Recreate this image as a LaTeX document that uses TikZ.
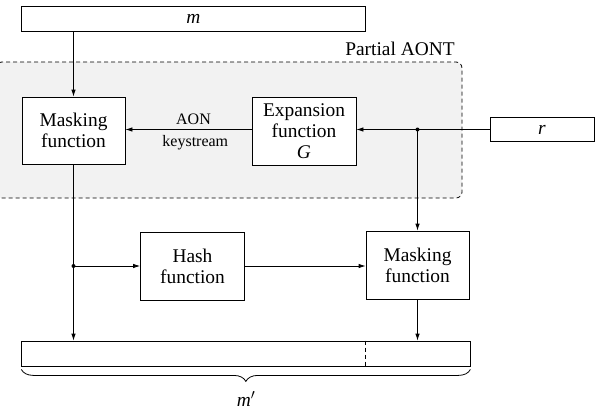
\documentclass[tikz,border=0pt]{standalone}
\usepackage{fontspec}
\setmainfont{Liberation Serif}
\usetikzlibrary{arrows.meta,decorations.pathreplacing}
\begin{document}
\begin{tikzpicture}[x=1pt,y=-1pt,
  box/.style={draw, fill=white, line width=0.8pt, align=center, inner sep=0pt,
    font=\fontsize{19.4}{21}\selectfont},
  lbl/.style={inner sep=0pt, font=\fontsize{16}{18}\selectfont},
  big/.style={inner sep=0pt, font=\fontsize{19.4}{21}\selectfont},
  arr/.style={-{Latex[length=7pt,width=4.5pt]}, line width=0.8pt},
  ln/.style={line width=0.8pt}]
\useasboundingbox (0,0) rectangle (596,412);
% Partial AONT region
\draw[fill=gray!10, dash pattern=on 4pt off 3pt, line width=0.8pt, rounded corners=6pt]
  (-4,62) rectangle (462,198);
\node[big, anchor=base] (aont) at (400,56) {Partial AONT};
% boxes
\node[box, minimum width=343.3pt, minimum height=25pt] (mbox) at (193.3,18.5) {\textit{m}};
\node[box, minimum width=103pt, minimum height=67pt] (mask1) at (73.5,130.5) {Masking\\function};
\node[box, minimum width=104pt, minimum height=68pt] (exp) at (304,131) {Expansion\\function\\\textit{G}};
\node[box, minimum width=104pt, minimum height=24pt] (r) at (542,129.5) {\textit{r}};
\node[box, minimum width=104pt, minimum height=68pt] (hash) at (192.5,266) {Hash\\function};
\node[box, minimum width=103pt, minimum height=68pt] (mask2) at (417.5,265) {Masking\\function};
\node[box, minimum width=448.3pt, minimum height=25pt] (bar) at (245.85,353.5) {};
% labels
\node[lbl, anchor=base] (aon) at (193.5,124) {AON};
\node[lbl, anchor=base] (ks) at (195.3,146) {keystream};
% connectors
\draw[arr] (mask1.north |- mbox.south) -- (mask1.north);
\coordinate (j) at (mask2.north |- r.west);
\draw[arr] (r.west) -- (r.west -| exp.east);
\fill (j) circle (2pt);
\draw[arr] (j) -- (mask2.north);
\draw[arr] (exp.west |- r.west) -- (r.west -| mask1.east);
\draw[arr] (mask1.south) -- (mask1.south |- bar.north);
\coordinate (k) at (mask1.south |- hash.west);
\fill (k) circle (2pt);
\draw[arr] (k) -- (hash.west);
\draw[arr] (hash.east) -- (hash.east -| mask2.west);
\draw[arr] (mask2.south) -- (mask2.south |- bar.north);
\draw[dash pattern=on 4pt off 3pt, line width=0.8pt] (mask2.west |- bar.north) -- (mask2.west |- bar.south);
% brace
\draw[line width=0.8pt, decorate, decoration={brace, mirror, amplitude=12pt, raise=3pt}]
  (bar.south west) -- (bar.south east);
\node[big] (mp) at (246,399) {\textit{m}$'$};
\end{tikzpicture}
\end{document}
